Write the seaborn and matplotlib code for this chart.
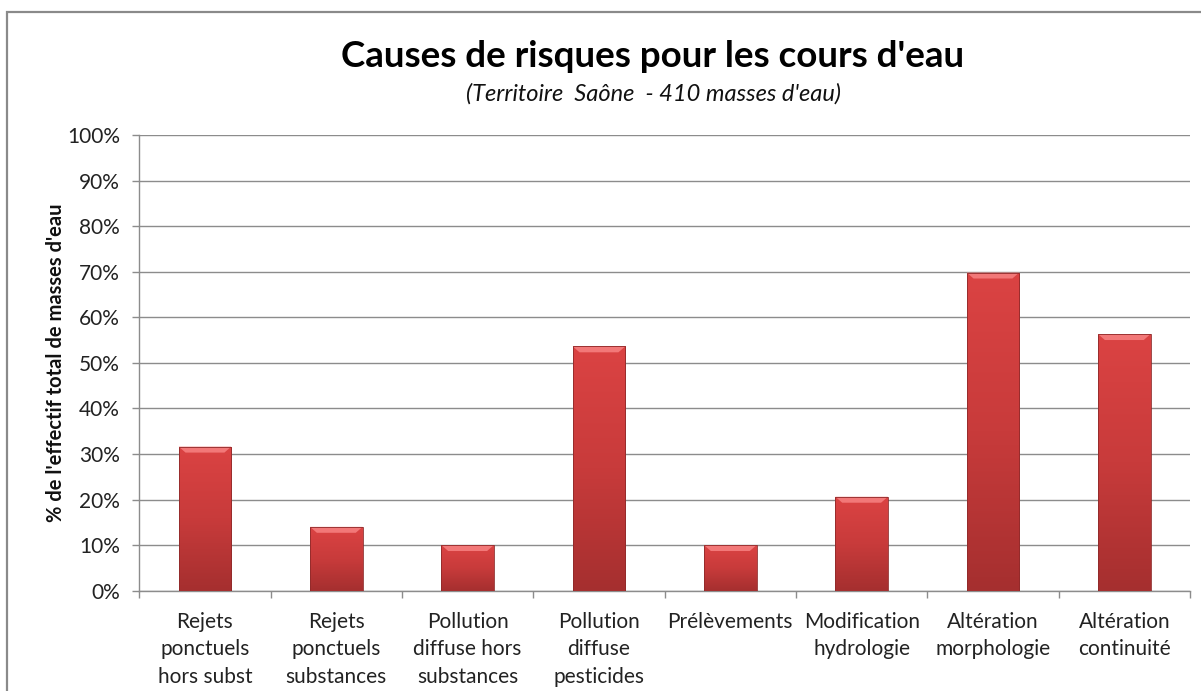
import numpy as np
import pandas as pd
import seaborn as sns
import matplotlib.pyplot as plt
from matplotlib.patches import Polygon, Rectangle
from matplotlib.ticker import PercentFormatter, FixedLocator

categories = ["Rejets\nponctuels\nhors subst", "Rejets\nponctuels\nsubstances",
              "Pollution\ndiffuse hors\nsubstances", "Pollution\ndiffuse\npesticides",
              "Prélèvements", "Modification\nhydrologie", "Altération\nmorphologie",
              "Altération\ncontinuité"]
values = [0.316, 0.140, 0.100, 0.536, 0.100, 0.206, 0.698, 0.563]
y_ticks = [0, 0.1, 0.2, 0.3, 0.4, 0.5, 0.6, 0.7, 0.8, 0.9, 1.0]

title = "Causes de risques pour les cours d'eau"
subtitle = "(Territoire  Saône  - 410 masses d'eau)"
ylabel = "% de l'effectif total de masses d'eau"

sns.set_style("white")
plt.rcParams['font.family'] = ['Lato', 'DejaVu Sans']

df = pd.DataFrame({"cause": categories, "pct": values})

fig = plt.figure(figsize=(12.01, 6.91), dpi=100)
ax = fig.add_axes([0.1160, 0.1452, 0.8748, 0.6595])

sns.barplot(data=df, x="cause", y="pct", color="#c83a3a", width=0.40,
            edgecolor="none", ax=ax, zorder=3)

# vertical gradient + top bevel on each bar
grad = np.linspace(0, 1, 256).reshape(-1, 1)
cmap = plt.matplotlib.colors.LinearSegmentedColormap.from_list(
    "barred", ["#a52f2f", "#c83b3b", "#db4343"])
for p in ax.patches:
    x0, y0 = p.get_x(), p.get_y()
    w, h = p.get_width(), p.get_height()
    im = ax.imshow(grad, cmap=cmap, aspect="auto", origin="lower",
                   extent=[x0, x0 + w, y0, y0 + h], zorder=4)
    im.set_clip_path(p)
    bev = 0.013
    dx = w * 0.13
    ax.add_patch(Polygon([[x0, y0 + h], [x0 + w, y0 + h],
                          [x0 + w - dx, y0 + h - bev], [x0 + dx, y0 + h - bev]],
                         closed=True, facecolor="#f27878", edgecolor="none", zorder=5))
    ax.add_patch(Rectangle((x0, y0), w, h, fill=False, edgecolor="#8f2a2a",
                           lw=0.6, zorder=6))

ax.set_xlim(-0.5, len(categories) - 0.5)
ax.set_ylim(0, 1)
ax.set_yticks(y_ticks)
ax.yaxis.set_major_formatter(PercentFormatter(1.0, decimals=0))
ax.grid(axis="y", color="#8c8c8c", lw=1.0, zorder=0)
ax.set_axisbelow(True)

for s in ["top", "right"]:
    ax.spines[s].set_visible(False)
for s in ["left", "bottom"]:
    ax.spines[s].set_color("#8c8c8c")
    ax.spines[s].set_linewidth(1.0)

ax.tick_params(axis="y", length=5, color="#8c8c8c", width=1, pad=9,
               labelsize=15, labelcolor="#222222", left=True)
ax.tick_params(axis="x", which="major", length=0, pad=15,
               labelsize=15, labelcolor="#222222")
ax.xaxis.set_minor_locator(FixedLocator(np.arange(-0.5, len(categories), 1.0)))
ax.tick_params(axis="x", which="minor", length=5, color="#8c8c8c", width=1,
               bottom=True)
for lab in ax.get_xticklabels():
    lab.set_linespacing(1.47)
    lab.set_verticalalignment("top")

ax.set_xlabel("")
ax.set_ylabel(ylabel, fontsize=14.5, fontweight="bold", color="#111111", labelpad=0.5)

fig.text(0.5437, 0.9035, title, ha="center", va="baseline",
         fontsize=26.5, fontweight="bold", color="#000000")
fig.text(0.5441, 0.855, subtitle, ha="center", va="baseline",
         fontsize=17, style="italic", color="#111111")

# outer chart frame (cropped at right and bottom)
fig.patches.append(Rectangle((7 / 1201, -0.1), 1.2, 1 - 12 / 691 + 0.1,
                             transform=fig.transFigure, fill=False,
                             edgecolor="#8a8a8a", lw=1.6))

fig.savefig("out.png", dpi=100)
